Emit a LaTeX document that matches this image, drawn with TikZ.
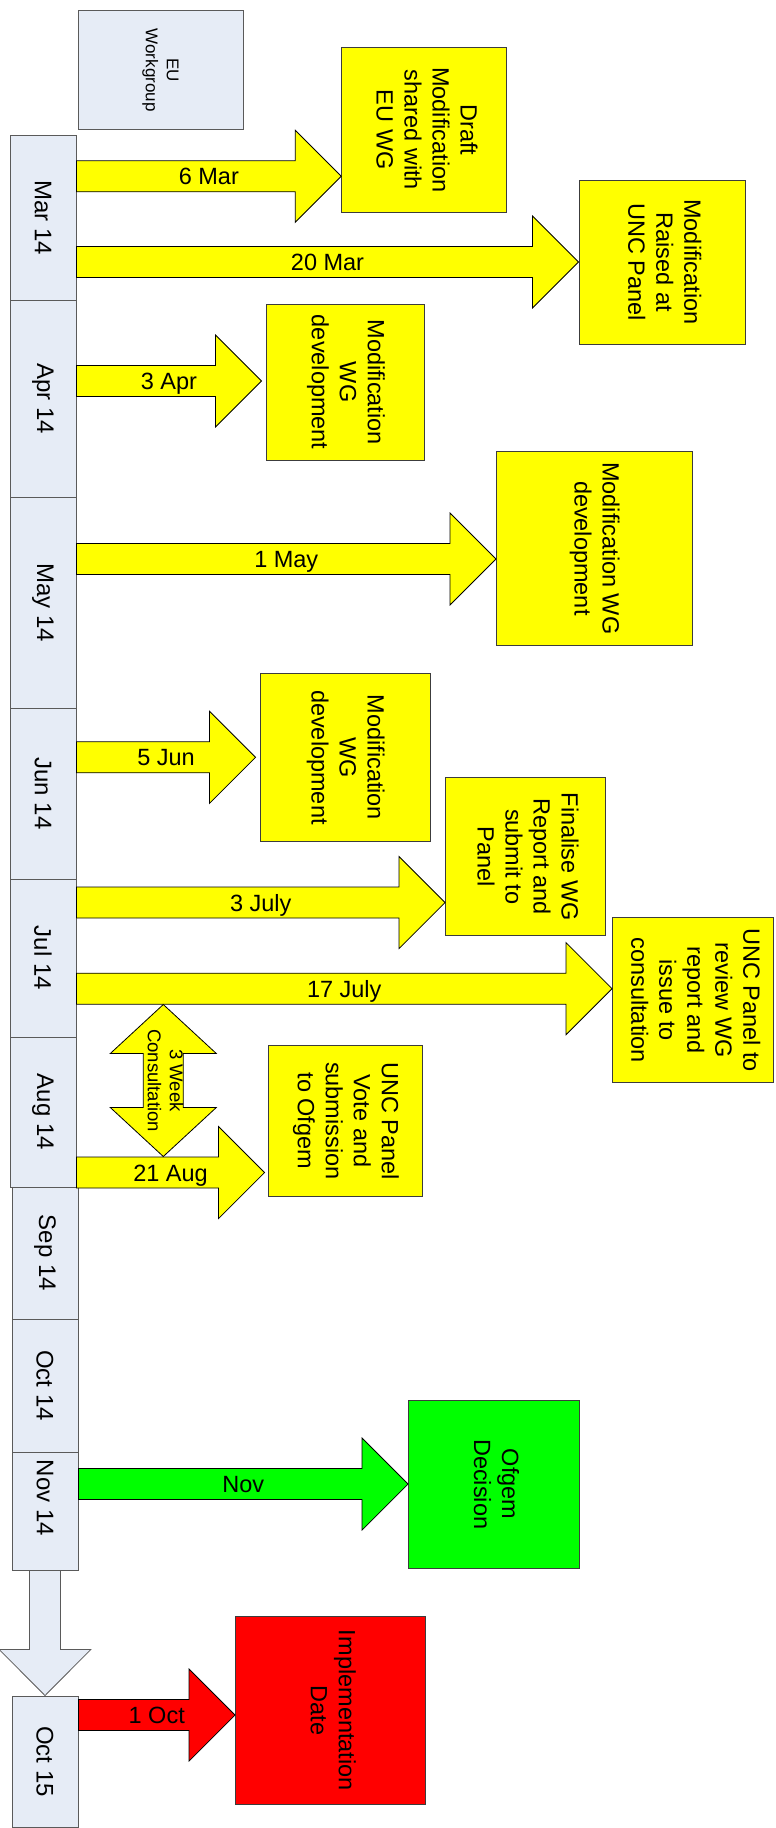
\documentclass[tikz,border=0pt]{standalone}
\usepackage{fontspec}
\setmainfont{Liberation Sans}
\usetikzlibrary{calc}

\definecolor{monthfill}{RGB}{230,236,246}
\definecolor{monthline}{RGB}{90,90,90}
\definecolor{boxline}{RGB}{60,60,60}
\definecolor{hiyellow}{RGB}{255,255,0}
\definecolor{higreen}{RGB}{0,255,0}
\definecolor{hired}{RGB}{255,0,0}

% block arrow geometry
\newcommand{\arrShaft}{15.5pt}
\newcommand{\arrHead}{46pt}
\newcommand{\arrLen}{46pt}

% vertical (top-to-bottom) multi-line text
\newcommand{\vtext}[1]{\rotatebox{-90}{\begin{tabular}{@{}c@{}}#1\end{tabular}}}

% horizontal block arrow from #2 to #3 with a date label node #4 / text #5
\newcommand{\harrow}[5][]{%
  \draw[blockarrow,#1] let \p1=(#2), \p2=(#3) in
    (\x1,\y1+\arrShaft) -- (\x2-\arrLen,\y1+\arrShaft) -- (\x2-\arrLen,\y1+\arrHead) -- (\x2,\y1)
    -- (\x2-\arrLen,\y1-\arrHead) -- (\x2-\arrLen,\y1-\arrShaft) -- (\x1,\y1-\arrShaft) -- cycle;%
  \node[datelabel] (#4) at ($(#2)!0.5!(#3)$) {#5};%
}

\begin{document}
\begin{tikzpicture}[x=1pt,y=-1pt,
  month/.style={draw=monthline, fill=monthfill, line width=0.9pt, inner sep=0pt,
    minimum width=66pt, font=\fontsize{24}{28}\selectfont},
  task/.style={draw=boxline, fill=hiyellow, line width=0.9pt, inner sep=0pt,
    font=\fontsize{23.5}{28}\selectfont},
  blockarrow/.style={draw=black, line width=0.8pt, fill=hiyellow, line join=miter},
  datelabel/.style={inner sep=0pt, text height=17pt, text depth=0pt,
    font=\fontsize{23.5}{28}\selectfont},
]
\useasboundingbox (0,0) rectangle (776,1828);

% legend box
\node[month, minimum width=165pt, minimum height=119pt, font=\fontsize{17}{21}\selectfont]
  (eu) at (160.5,70.2) {\vtext{EU\\Workgroup}};

% timeline of months
\node[month, minimum height=165pt] (mar) at (43,217.5) {\rotatebox{-90}{Mar 14}};
\node[month, minimum height=197pt] (apr) at (43,398.5) {\rotatebox{-90}{Apr 14}};
\node[month, minimum height=211pt] (may) at (43,602.5) {\rotatebox{-90}{May 14}};
\node[month, minimum height=171pt] (jun) at (43,793.5) {\rotatebox{-90}{Jun 14}};
\node[month, minimum height=158pt] (jul) at (43,958) {\rotatebox{-90}{Jul 14}};
\node[month, minimum height=150pt] (aug) at (43,1112) {\rotatebox{-90}{Aug 14}};
\node[month, minimum height=132pt] (sep) at (45,1253) {\rotatebox{-90}{Sep 14}};
\node[month, minimum height=133pt] (oct) at (45,1385.5) {\rotatebox{-90}{Oct 14}};
\node[month, minimum height=118pt] (nov) at (45,1511) {\rotatebox{-90}{Nov 14\hspace{26pt}}};
\node[month, minimum height=131pt] (oct15) at (45,1761.5) {\rotatebox{-90}{Oct 15}};

% milestone boxes
\node[task, minimum width=165pt, minimum height=165pt] (draft) at (424.2,129.8)
  {\vtext{Draft\\Modification\\shared with\\EU WG}};
\node[task, minimum width=166pt, minimum height=164pt] (raised) at (662,262)
  {\vtext{Modification\\Raised at\\UNC Panel}};
\node[task, minimum width=158pt, minimum height=156.3pt] (wgapr) at (345.5,382.2)
  {\vtext{Modification\\WG\\development}};
\node[task, minimum width=195.5pt, minimum height=194pt] (wgmay) at (594.25,548.3)
  {\vtext{Modification WG\\development}};
\node[task, minimum width=169.5pt, minimum height=168.7pt] (wgjun) at (345.25,757.35)
  {\vtext{Modification\\WG\\development}};
\node[task, minimum width=159.5pt, minimum height=158pt] (finalise) at (525.25,856.7)
  {\vtext{Finalise WG\\Report and\\submit to\\Panel}};
\node[task, minimum width=161pt, minimum height=165pt] (review) at (693,1000.2)
  {\vtext{UNC Panel to\\review WG\\report and\\issue to\\consultation}};
\node[task, minimum width=154pt, minimum height=151.7pt] (vote) at (345.5,1120.85)
  {\vtext{UNC Panel\\Vote and\\submission\\to Ofgem}};
\node[task, fill=higreen, minimum width=170.5pt, minimum height=168.3pt] (ofgem) at (493.75,1484.15)
  {\vtext{Ofgem\\Decision}};
\node[task, fill=hired, minimum width=190pt, minimum height=188pt] (impl) at (330.5,1710.3)
  {\vtext{Implementation\\Date}};

% arrow end points
\coordinate (s1) at (mar.east |- 0,176.3);   \coordinate (t1) at (draft.west |- s1);
\coordinate (s2) at (mar.east |- 0,262);     \coordinate (t2) at (raised.west |- s2);
\coordinate (s3) at (apr.east |- 0,381);     \coordinate (t3) at ($(wgapr.west |- s3)+(-4.5,0)$);
\coordinate (s4) at (may.east |- 0,559);     \coordinate (t4) at (wgmay.west |- s4);
\coordinate (s5) at (jun.east |- 0,757.3);   \coordinate (t5) at ($(wgjun.west |- s5)+(-4.5,0)$);
\coordinate (s6) at (jul.east |- 0,902.5);   \coordinate (t6) at (finalise.west |- s6);
\coordinate (s7) at (jul.east |- 0,988.7);   \coordinate (t7) at (review.west |- s7);
\coordinate (s8) at (aug.east |- 0,1172.5);  \coordinate (t8) at ($(vote.west |- s8)+(-3.5,0)$);
\coordinate (s9) at (nov.east |- 0,1484);    \coordinate (t9) at (ofgem.west |- s9);
\coordinate (s10) at (oct15.east |- 0,1715); \coordinate (t10) at (impl.west |- s10);

% dated arrows
\harrow{s1}{t1}{l1}{6 Mar}
\harrow{s2}{t2}{l2}{20 Mar}
\harrow{s3}{t3}{l3}{3 Apr}
\harrow{s4}{t4}{l4}{1 May}
\harrow{s5}{t5}{l5}{5 Jun}
\harrow{s6}{t6}{l6}{3 July}
\harrow{s7}{t7}{l7}{17 July}
\harrow{s8}{t8}{l8}{21 Aug}
\harrow[fill=higreen]{s9}{t9}{l9}{Nov}
\harrow[fill=hired]{s10}{t10}{l10}{1 Oct}

% consultation period (double-headed arrow)
\coordinate (cwtop) at (163.3,1004.5);
\coordinate (cwbot) at (163.3,1156.5);
\draw[blockarrow] let \p1=(cwtop), \p2=(cwbot) in
  (\x1,\y1) -- (\x1+53pt,\y1-49pt) -- (\x1+20pt,\y1-49pt) -- (\x1+20pt,\y2+49pt)
  -- (\x1+53pt,\y2+49pt) -- (\x2,\y2) -- (\x1-53pt,\y2+49pt) -- (\x1-20pt,\y2+49pt)
  -- (\x1-20pt,\y1-49pt) -- (\x1-53pt,\y1-49pt) -- cycle;
\node[inner sep=0pt, font=\fontsize{18.5}{22}\selectfont] (cwlabel)
  at ($(cwtop)!0.5!(cwbot)$) {\vtext{3 Week\\Consultation}};

% continuation of the timeline
\draw[blockarrow, draw=monthline, fill=monthfill] let \p1=(nov.south), \p2=(oct15.north) in
  (\x1-15.5pt,\y1) -- (\x1-15.5pt,\y2+46pt) -- (\x1-45.75pt,\y2+46pt) -- (\x2,\y2)
  -- (\x1+45.75pt,\y2+46pt) -- (\x1+15.5pt,\y2+46pt) -- (\x1+15.5pt,\y1) -- cycle;

\end{tikzpicture}
\end{document}
